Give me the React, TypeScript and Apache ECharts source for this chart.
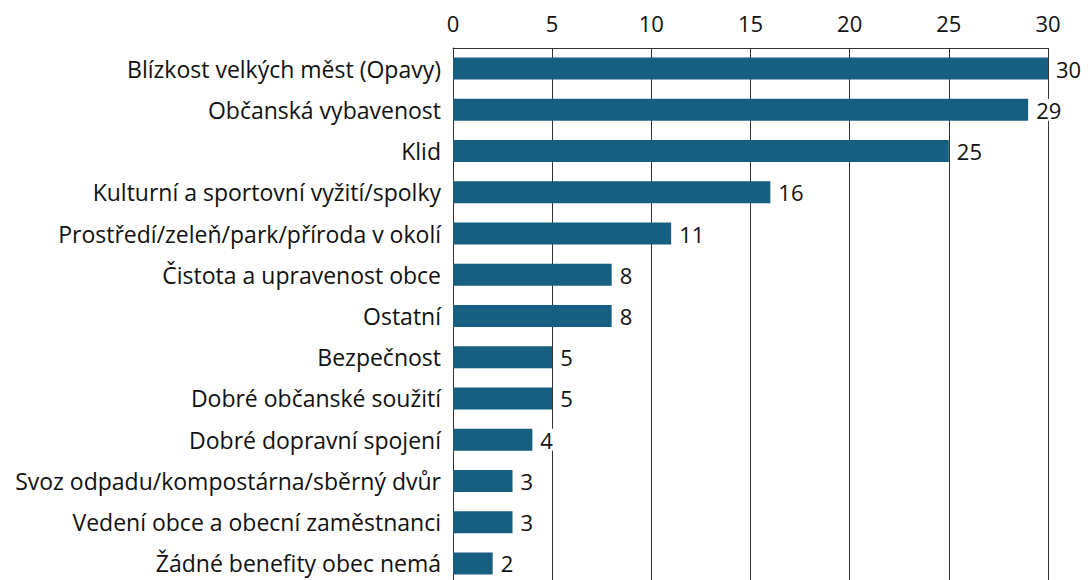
import React, { useEffect, useRef } from "react";
import * as echarts from "echarts";

const categories = [
  "Blízkost velkých měst (Opavy)",
  "Občanská vybavenost",
  "Klid",
  "Kulturní a sportovní vyžití/spolky",
  "Prostředí/zeleň/park/příroda v okolí",
  "Čistota a upravenost obce",
  "Ostatní",
  "Bezpečnost",
  "Dobré občanské soužití",
  "Dobré dopravní spojení",
  "Svoz odpadu/kompostárna/sběrný dvůr",
  "Vedení obce a obecní zaměstnanci",
  "Žádné benefity obec nemá",
];
const values = [30, 29, 25, 16, 11, 8, 8, 5, 5, 4, 3, 3, 2];

export default function App() {
  const ref = useRef<HTMLDivElement>(null);
  useEffect(() => {
    const chart = echarts.init(ref.current!, null, { renderer: "svg" });
    const font = "Open Sans";
    chart.setOption({
      animation: false,
      grid: { left: 453, right: 40, top: 48, height: 536 },
      xAxis: {
        type: "value",
        position: "top",
        min: 0,
        max: 30,
        interval: 5,
        axisLine: { show: true, lineStyle: { color: "#333", width: 1 } },
        axisTick: { show: false },
        splitLine: { show: true, lineStyle: { color: "#333", width: 1 } },
        axisLabel: { color: "#111", fontSize: 22, fontFamily: font, margin: 14 },
      },
      yAxis: {
        type: "category",
        inverse: true,
        data: categories,
        axisLine: { show: true, lineStyle: { color: "#333", width: 1 } },
        axisTick: { show: false },
        axisLabel: { color: "#111", fontSize: 23, fontFamily: font, margin: 12 },
      },
      series: [
        {
          type: "bar",
          data: values,
          barWidth: 22,
          itemStyle: { color: "#175f80" },
          label: {
            show: true,
            position: "right",
            distance: 6,
            color: "#111",
            fontSize: 22,
            fontFamily: font,
            backgroundColor: "#fff",
            padding: [0, 2],
          },
        },
      ],
    });
    return () => chart.dispose();
  }, []);
  return (
    <div
      ref={ref}
      style={{ position: "fixed", left: 0, top: 0, width: 1088, height: 600, background: "#fff" }}
    />
  );
}
